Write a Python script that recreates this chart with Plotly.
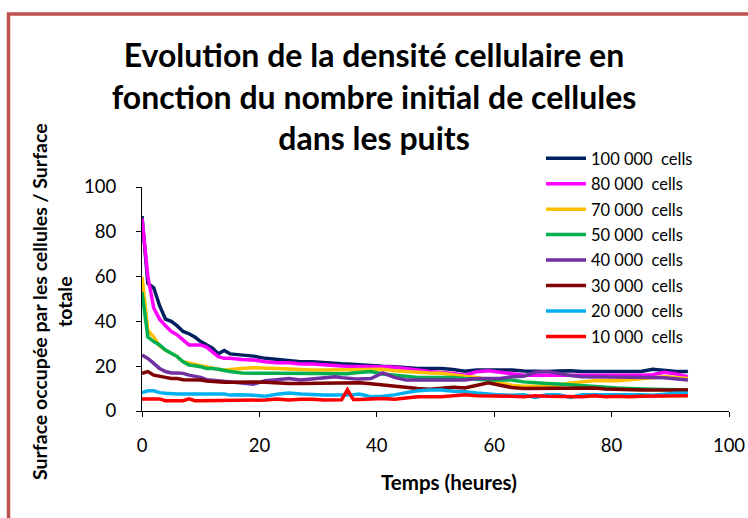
import plotly.graph_objects as go

# Time (hours)
temps = (list(range(0, 16)) + [17, 19, 21, 23, 25, 27, 29, 31, 33, 34, 35, 36]
         + list(range(37, 94, 2)))

series_names = ["100 000  cells", "80 000  cells", "70 000  cells", "50 000  cells",
                "40 000  cells", "30 000  cells", "20 000  cells", "10 000  cells"]

c100k = [87, 57, 55, 47, 41, 40, 38, 35.5, 34.5, 33, 31, 29.5, 28, 25.5, 27, 25.5,
         25, 24.5, 23.5, 23, 22.5, 22, 22, 21.5, 21.3, 21.1, 21, 20.8,
         20.5, 20.3, 20, 19.8, 19.3, 19, 19, 19, 18.5,
         17.8, 18.3, 18.3, 18, 18.3, 17.9, 17.6, 17.6, 17.9, 18, 17.6, 17.6, 17.6, 17.6, 17.8, 17.6,
         18.6, 18, 17.6, 17.6]
c80k = [86, 60, 46, 41, 38, 35.5, 34, 31.5, 29.5, 29.5, 29.5, 28.5, 26.5, 24.3, 23.5, 23.5,
        23, 22.8, 22, 21.5, 21.5, 21, 21, 20.5, 20.3, 20.1, 20, 20,
        20, 20.1, 19.8, 19.5, 19, 18.3, 17.6, 17.3, 16.8,
        16, 17.5, 18, 17.3, 16.5, 16, 16, 16, 16, 15.8, 16, 16, 16, 15.8, 16, 16,
        16.2, 17.3, 16.5, 15.3]
c70k = [60, 36, 33, 29, 27.2, 25.7, 24.3, 22, 21.3, 20.5, 20.2, 19.8, 19, 18.6, 18.3, 18.6,
        19, 19.3, 19, 19, 18.8, 18.5, 18.3, 18.3, 18.3, 18.3, 18.3, 18.5,
        18.6, 18.6, 18.6, 18, 17.6, 17.3, 17, 16.8, 16,
        15.5, 15, 14, 12.5, 11.5, 11, 11, 11, 11.5, 12.5, 13, 13.5, 13.5, 13.5, 14, 14.5,
        15, 15.3, 15, 14.5]
c50k = [53, 33, 31, 29.5, 27.2, 25.7, 24.3, 22, 20.5, 20.2, 19.8, 19, 19, 18.6, 18, 17.6,
        17, 16.8, 16.8, 16.8, 16.8, 16.6, 16.6, 16.8, 16.8, 16.7, 16.6, 17,
        17.3, 17.6, 16.5, 16, 15.3, 15, 15, 15, 15,
        14.5, 14, 13.8, 13.8, 13.8, 13, 12.8, 12.3, 12, 11.6, 11.2, 10.8, 10.5, 10.3, 10.1, 9.8,
        9.7, 9.6, 9.5, 9.4]
c40k = [25, 23.5, 21.3, 19, 17.6, 17, 17, 16.8, 16, 15.6, 15, 14, 13.8, 13.4, 13.4, 13.1,
        12.5, 12, 13.5, 14, 14.5, 13.8, 14.3, 15, 15.3, 14.9, 14.5, 14.4,
        14.3, 14.5, 17, 15, 13.8, 13.8, 13.8, 13.6, 13.5,
        13.8, 14.5, 14.5, 14.5, 15.3, 15.5, 17.3, 17.6, 16.8, 15.8, 15.3, 15.3, 15.3, 15.3, 15.3, 15,
        15, 14.8, 14.3, 13.8]
c30k = [16.8, 17.6, 16, 15.3, 15, 14.5, 14.5, 14, 14, 14, 13.8, 13.4, 13.1, 12.8, 12.8, 12.8,
        13, 13, 12.8, 12.5, 12.3, 12.3, 12.3, 12.3, 12.3, 12.4, 12.5, 12.5,
        12.6, 12.2, 11.6, 11.2, 10.5, 10, 9.7, 10.3, 10.6,
        10.3, 11.5, 12.6, 11.5, 10.5, 10.1, 10.1, 10.1, 10.1, 10.1, 10.3, 10.3, 9.8, 9.6, 9.4, 9.4,
        9.4, 9.4, 9.4, 9.4]
c20k = [8.2, 9, 9, 8.2, 7.9, 7.6, 7.6, 7.6, 7.6, 7.6, 7.6, 7.6, 7.3, 7.6, 7.6, 7.1,
        7.3, 7, 6.6, 7.5, 8, 7.6, 7.3, 7.1, 7.1, 7.1, 7.1, 7.3,
        7.6, 6.4, 6.6, 7.2, 8.2, 9, 9.4, 9.4, 8.8,
        8.6, 8, 7.5, 7.2, 7, 7.2, 6, 7.2, 7.2, 6, 7.2, 7.2, 7.2, 7.2, 7.5, 7.2,
        7, 7.5, 7.9, 7.9]
c10k = [5.4, 5.4, 5.4, 5.4, 4.6, 4.6, 4.6, 4.6, 5.4, 4.6, 4.6, 4.6, 4.6, 4.6, 4.6, 4.8,
        4.8, 4.8, 4.9, 5.4, 4.9, 5.3, 5.3, 4.9, 5, 5, 9.5, 5.1,
        5.1, 5.3, 5.6, 5.3, 6, 6.4, 6.4, 6.4, 6.8,
        7.2, 6.8, 6.8, 6.8, 6.6, 6.4, 6.8, 6.6, 6.6, 6.4, 6.4, 6.8, 6.4, 6.6, 6.4, 6.6,
        6.6, 6.6, 6.8, 6.8]

series_values = [c100k, c80k, c70k, c50k, c40k, c30k, c20k, c10k]
colors = ["#002060", "#FF00FF", "#FFC000", "#00B050", "#7030A0", "#7F0000", "#00B0F0", "#FF0000"]

x_ticks = [0, 20, 40, 60, 80, 100]
y_ticks = [0, 20, 40, 60, 80, 100]

FONT = "Lato"

fig = go.Figure()
for i, (name, vals, col) in enumerate(zip(series_names, series_values, colors)):
    fig.add_trace(go.Scatter(
        x=temps, y=vals, name=name, mode="lines",
        line=dict(color=col, width=3.5),
        legendgroup=f"g{i}",
    ))

L, R, T, B = 142, 19, 187, 107
W, H = 748, 518
pw, ph = W - L - R, H - T - B

def px_x(p):
    return (p - L) / pw

def px_y(p):
    return (H - B - p) / ph

fig.update_layout(
    width=W, height=H, autosize=False,
    margin=dict(l=L, r=R, t=T, b=B, autoexpand=False),
    paper_bgcolor="white", plot_bgcolor="white",
    font=dict(family=FONT, color="black"),
    title=dict(
        text="Evolution de la densité cellulaire en<br>fonction du nombre initial de cellules<br>dans les puits",
        x=0.5, xanchor="center", xref="container",
        y=1 - 67 / H, yanchor="top", yref="container",
        font=dict(family=FONT, size=32, color="black", weight="bold"),
    ),
    showlegend=True,
    legend=dict(
        x=px_x(541), xanchor="left",
        y=px_y(141), yanchor="top",
        bgcolor="rgba(0,0,0,0)",
        font=dict(family=FONT, size=16.5, color="black"),
        tracegroupgap=1,
        itemwidth=40,
    ),
    xaxis=dict(
        range=[0, 100], tickvals=x_ticks, ticks="outside", ticklen=5,
        tickcolor="black", showline=True, linecolor="black", linewidth=1,
        showgrid=False, zeroline=False, tickfont=dict(size=18.5, family=FONT),
        ticklabelstandoff=13, automargin=False,
    ),
    yaxis=dict(
        range=[0, 100], tickvals=y_ticks, ticks="outside", ticklen=5,
        tickcolor="black", showline=True, linecolor="black", linewidth=1,
        showgrid=False, zeroline=False, tickfont=dict(size=18.5, family=FONT),
        ticklabelstandoff=16, automargin=False,
    ),
    annotations=[
        dict(text="<b>Temps (heures)</b>", xref="paper", yref="paper",
             x=px_x(449), y=px_y(482), xanchor="center", yanchor="middle",
             showarrow=False, font=dict(family=FONT, size=20.5, color="black")),
        dict(text="<b>Surface occupée par les cellules / Surface<br>totale</b>",
             xref="paper", yref="paper", x=px_x(52), y=px_y(302),
             xanchor="center", yanchor="middle", textangle=-90,
             showarrow=False, font=dict(family=FONT, size=19.5, color="black")),
    ],
    shapes=[
        dict(type="rect", xref="paper", yref="paper",
             x0=px_x(8.5), x1=px_x(800), y0=px_y(600), y1=px_y(14),
             line=dict(color="#C0504D", width=3.5), fillcolor="rgba(0,0,0,0)",
             layer="below"),
    ],
)

fig.write_html("out.html",
               config={"displayModeBar": False, "responsive": False},
               post_script="document.body.style.margin='0';document.body.style.overflow='hidden';")
